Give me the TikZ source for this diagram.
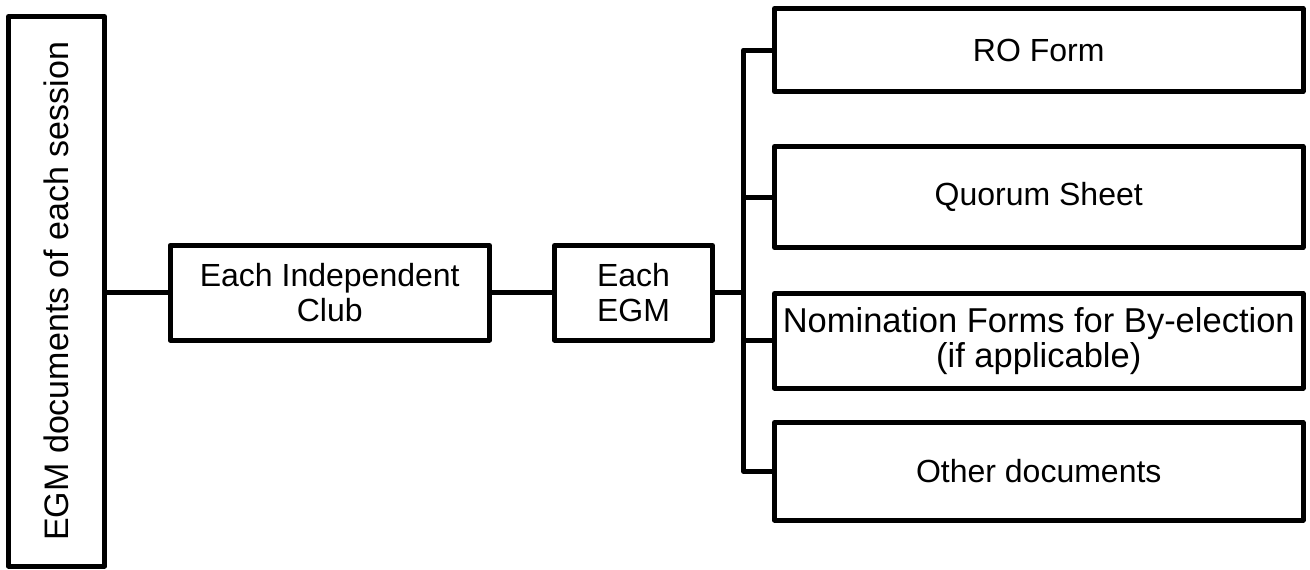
\documentclass[tikz,border=0pt]{standalone}
\usepackage{fontspec}
\setmainfont{Liberation Sans}
\usetikzlibrary{positioning}

\begin{document}
\begin{tikzpicture}[
        x=1pt, y=-1pt,
        box/.style={rectangle, draw, line width=5pt, line join=round, align=center, inner sep=2pt, font=\fontsize{32}{34.5}\selectfont},
        link/.style={draw, line width=5pt, line join=round}
    ]
    \useasboundingbox (0,0) rectangle (1310,570);

    % Left column
    \node[box, rotate=90, minimum width=549.5pt, minimum height=96pt, font=\fontsize{34}{36}\selectfont] (session) at (56.5,291.25) {EGM documents of each session};

    % Middle column
    \node[box, minimum width=319.5pt, minimum height=94.5pt] (club) at (329.75,292.75) {Each Independent\\Club};
    \node[box, minimum width=158pt, minimum height=94.5pt] (egm) at (633.5,292.75) {Each\\EGM};

    % Right column
    \node[box, minimum width=528.5pt, minimum height=83pt] (ro) at (1038.75,50) {RO Form};
    \node[box, minimum width=528.5pt, minimum height=101pt] (quorum) at (1038.75,197) {Quorum Sheet};
    \node[box, minimum width=528.5pt, minimum height=94.5pt, font=\fontsize{34.5}{35}\selectfont] (nom) at (1038.75,340.75) {Nomination Forms for By-election\\(if applicable)};
    \node[box, minimum width=528.5pt, minimum height=97.5pt] (other) at (1038.75,471.25) {Other documents};

    \coordinate (spine) at (743.5,0);

    % Define connections
    \draw[link] (club.west) -- (club.west -| session.south);
    \draw[link] (club.east) -- (egm.west);
    \draw[link] (egm.east) -- (egm.east -| spine);
    \draw[link] (ro.west) -- (ro.west -| spine) -- (other.west -| spine) -- (other.west);
    \draw[link] (quorum.west) -- (quorum.west -| spine);
    \draw[link] (nom.west) -- (nom.west -| spine);

\end{tikzpicture}
\end{document}
